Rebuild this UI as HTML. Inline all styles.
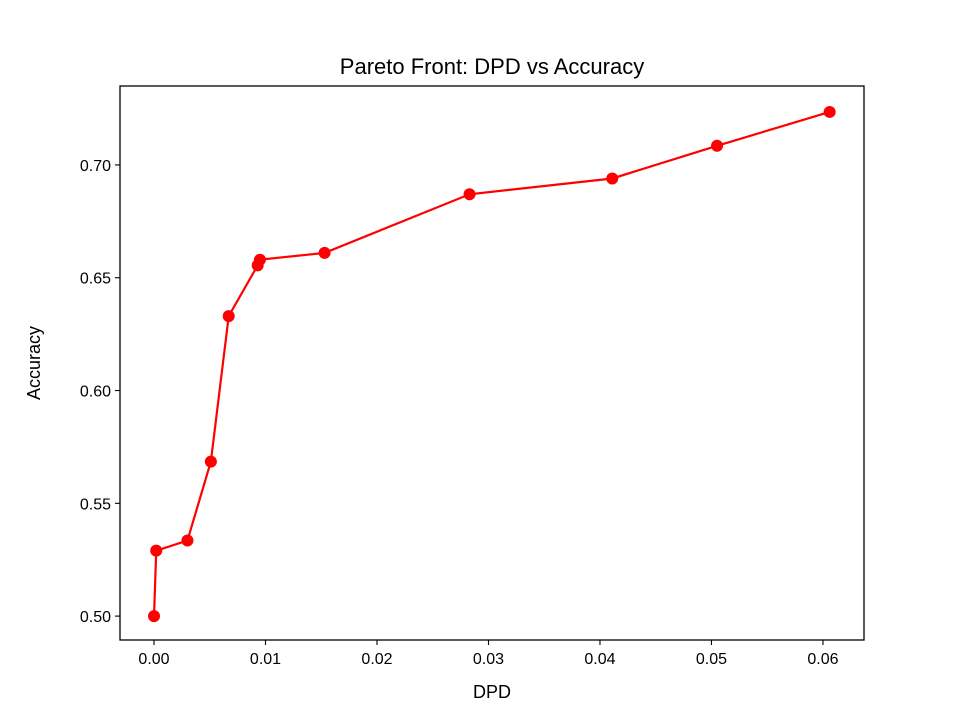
<!DOCTYPE html>
<html><head><meta charset="utf-8"><style>
body{margin:0;background:#fff;}
svg text{font-family:"Liberation Sans","DejaVu Sans",sans-serif;fill:#000;}
</style></head><body>
<svg id="chart" width="960" height="720">
<rect width="960" height="720" fill="#fff"/>
<text x="492" y="74" font-size="22" text-anchor="middle">Pareto Front: DPD vs Accuracy</text>
<g id="xticks"></g>
<g id="yticks"></g>
<g id="series"></g>
<rect x="120" y="86" width="744" height="554" fill="none" stroke="#000" stroke-width="1.3"/>
<text x="492" y="698" font-size="18" text-anchor="middle">DPD</text>
<text transform="translate(40,363) rotate(-90)" font-size="18" text-anchor="middle">Accuracy</text>
</svg>
<script>
const dpd=[0.0,0.0002,0.003,0.0051,0.0067,0.0093,0.0095,0.0153,0.0283,0.0411,0.0505,0.0606];
const accuracy=[0.500,0.529,0.5335,0.5685,0.633,0.6555,0.658,0.661,0.687,0.694,0.7085,0.7235];
const xTickVals=[0,0.01,0.02,0.03,0.04,0.05,0.06];
const xTickLabels=["0.00","0.01","0.02","0.03","0.04","0.05","0.06"];
const yTickVals=[0.50,0.55,0.60,0.65,0.70];
const yTickLabels=["0.50","0.55","0.60","0.65","0.70"];
const X0=120,X1=864,Y0=86,Y1=640,xmin=-0.00305,xmax=0.06368,ymin=0.4894,ymax=0.7350;
const sx=v=>X0+(v-xmin)/(xmax-xmin)*(X1-X0);
const sy=v=>Y1-(v-ymin)/(ymax-ymin)*(Y1-Y0);
const NS="http://www.w3.org/2000/svg";
function mk(t,a,p){const e=document.createElementNS(NS,t);for(const k in a)e.setAttribute(k,a[k]);p.appendChild(e);return e;}
const gx=document.getElementById('xticks'),gy=document.getElementById('yticks'),gs=document.getElementById('series');
xTickVals.forEach((v,i)=>{const x=sx(v);
const l=mk('line',{x1:x,x2:x,y1:Y1,y2:Y1+5,stroke:'#000','stroke-width':1.1},gx);


const t=mk('text',{x:x,y:Y1+24,'font-size':16,'text-anchor':'middle'},gx);t.textContent=xTickLabels[i];

});
yTickVals.forEach((v,i)=>{const y=sy(v);
const l=mk('line',{x1:X0-5,x2:X0,y1:y,y2:y,stroke:'#000','stroke-width':1.1},gy);


const t=mk('text',{x:X0-9,y:y+6,'font-size':16,'text-anchor':'end'},gy);t.textContent=yTickLabels[i];

});
const pts=dpd.map((d,i)=>sx(d)+','+sy(accuracy[i])).join(' ');
const pl=mk('polyline',{points:pts,fill:'none',stroke:'#ff0000','stroke-width':2.2},gs);


dpd.forEach((d,i)=>{const c=mk('circle',{cx:sx(d),cy:sy(accuracy[i]),r:6,fill:'#ff0000'},gs);

});
</script>
</body></html>
